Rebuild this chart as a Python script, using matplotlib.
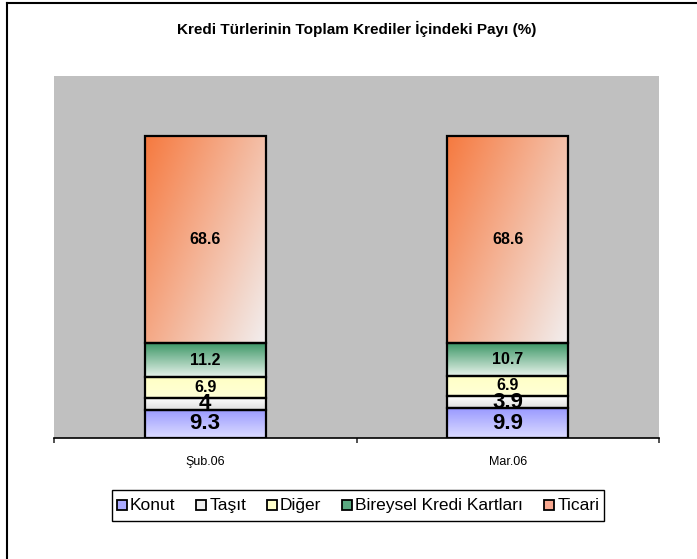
import matplotlib
matplotlib.use("Agg")
import matplotlib.pyplot as plt
import numpy as np
from matplotlib.colors import LinearSegmentedColormap
from matplotlib.patches import Rectangle
from matplotlib.lines import Line2D

plt.rcParams['font.family'] = 'Liberation Sans'

# data
periods = ['Şub.06', 'Mar.06']
series = ['Konut', 'Taşıt', 'Diğer', 'Bireysel Kredi Kartları', 'Ticari']
konut = [9.3, 9.9]
tasit = [4, 3.9]
diger = [6.9, 6.9]
bireysel = [11.2, 10.7]
ticari = [68.6, 68.6]
values = [konut, tasit, diger, bireysel, ticari]

# gradient colours: (start, end, direction)
grads = [
    ('#9a9aff', '#dcdcff', 'v'),
    ('#ffffff', '#dedede', 'v'),
    ('#ffffc4', '#ffffd8', 'v'),
    ('#3f9868', '#e6f2ea', 'v'),
    ('#f67a40', '#f2eeee', 'd'),
]
legend_colors = ['#aaaaff', '#eeeeee', '#ffffcc', '#5aa880', '#f8a890']
label_sizes = [16, 16, 11.5, 11.5, 11.5]

W, H = 697, 559
fig = plt.figure(figsize=(W / 100, H / 100), dpi=100)
ax = fig.add_axes([54 / W, 1 - 438 / H, 605 / W, 362 / H])
ax.set_facecolor('#c0c0c0')

x = np.arange(len(periods))
width = 0.4
bottoms = np.zeros(len(periods))

for vals, (c0, c1, mode), fs in zip(values, grads, label_sizes):
    cmap = LinearSegmentedColormap.from_list('g', [c0, c1])
    for i, v in enumerate(vals):
        x0, x1 = x[i] - width / 2, x[i] + width / 2
        y0, y1 = bottoms[i], bottoms[i] + v
        if mode == 'v':
            g = np.linspace(1, 0, 64).reshape(-1, 1)
            g = np.repeat(g, 2, axis=1)
        else:
            gx = np.linspace(0, 1, 64)
            gy = np.linspace(1, 0, 64)
            g = (gx[None, :] * 0.6 + gy[:, None] * 0.4)
        ax.imshow(g, cmap=cmap, vmin=0, vmax=1, extent=(x0, x1, y0, y1),
                  origin='lower', aspect='auto', interpolation='bilinear', zorder=2)
        ax.add_patch(Rectangle((x0, y0), width, v, facecolor='none',
                               edgecolor='black', linewidth=1.6, zorder=3))
        ax.text(x[i], y0 + v / 2, f'{v:g}', ha='center', va='center',
                fontsize=fs, fontweight='bold', zorder=4)
    bottoms += np.array(vals)

ax.set_xlim(-0.5, 1.5)
ax.set_ylim(0, 120)
ax.set_yticks([])
for s in ['top', 'right', 'left']:
    ax.spines[s].set_visible(False)
ax.spines['bottom'].set_linewidth(1.2)
ax.set_xticks(x)
ax.set_xticklabels(periods, fontsize=9)
ax.tick_params(axis='x', which='major', length=0, pad=13)
ax.set_xticks([-0.5, 0.5, 1.5], minor=True)
ax.tick_params(axis='x', which='minor', length=3.5, width=1.2, color='#333333')

ax.set_title('Kredi Türlerinin Toplam Krediler İçindeki Payı (%)',
             fontsize=11, fontweight='bold', pad=0, y=1 + 42 / 362)

# legend, laid out by hand so every label shares one baseline
renderer = fig.canvas.get_renderer()
leg_fs = 12.5
sq, gap, colgap, pad = 10, 3, 21, 5
leg_center_x, leg_top, leg_bottom = 358, 490, 521
base_y = 510
texts = [fig.text(0, 0, name, fontsize=leg_fs, va='baseline', ha='left') for name in series]
widths = [t.get_window_extent(renderer).width for t in texts]
content = sum(sq + gap + w for w in widths) + colgap * (len(series) - 1)
left = leg_center_x - content / 2
fig.add_artist(Rectangle(((left - pad) / W, 1 - leg_bottom / H), (content + 2 * pad) / W,
                         (leg_bottom - leg_top) / H, transform=fig.transFigure,
                         facecolor='white', edgecolor='black', linewidth=1.0, zorder=1))
cx = left
for t, w, c in zip(texts, widths, legend_colors):
    fig.add_artist(Rectangle((cx / W, 1 - base_y / H), sq / W, sq / H,
                             transform=fig.transFigure, facecolor=c,
                             edgecolor='black', linewidth=1.3, zorder=2))
    t.set_position(((cx + sq + gap) / W, 1 - base_y / H))
    t.set_zorder(3)
    cx += sq + gap + w + colgap

# Agg places some non-ASCII strings a little off their baseline; every label
# starts with a capital, so line up the ink top of the first letters.
fig.canvas.draw()
buf = np.asarray(fig.canvas.buffer_rgba())[:, :, :3].astype(int)
tops = []
for t in texts:
    bb = t.get_window_extent(renderer)
    c0 = int(bb.x0)
    r0, r1 = int(H - bb.y1), int(np.ceil(H - bb.y0))
    patch = buf[r0:r1, c0:c0 + 5].sum(axis=2) < 400
    rows = np.where(patch.any(axis=1))[0]
    tops.append(r0 + rows.min() if len(rows) else None)
ref_top = tops[0]
for t, top in zip(texts, tops):
    if top is not None and ref_top is not None:
        px, py = t.get_position()
        t.set_position((px, py + (top - ref_top) / H))

# outer chart border (left and top visible)
fig.add_artist(Line2D([7 / W, 7 / W], [0, 1 - 3 / H], color='black', lw=1.5,
                      transform=fig.transFigure))
fig.add_artist(Line2D([7 / W, 1], [1 - 3 / H, 1 - 3 / H], color='black', lw=1.5,
                      transform=fig.transFigure))

fig.savefig('out.png', dpi=100)
